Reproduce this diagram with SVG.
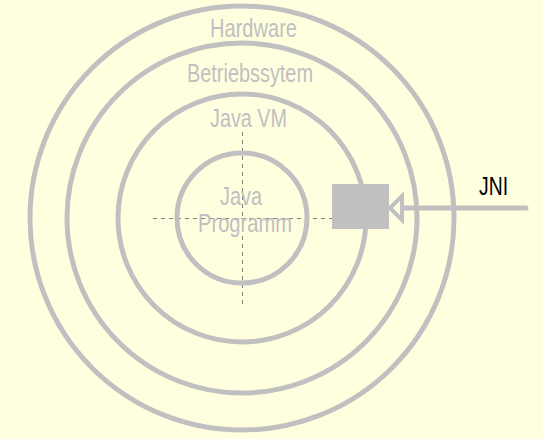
<svg xmlns="http://www.w3.org/2000/svg" width="543" height="439" viewBox="0 0 543 439">
<style>
.ring{fill:none;stroke:#C0C0C0;stroke-width:5}
.lbl{font-family:"Liberation Sans",Arial,sans-serif;font-size:25px;fill:#C0C0C0}
.axis{stroke:#808080;stroke-width:1;stroke-dasharray:4,4;fill:none}
</style>
<rect x="0" y="0" width="543" height="439" fill="#FFFFE0"/>
<g id="hardware">
<circle class="ring" cx="242" cy="218" r="212"/>
<text class="lbl" x="210" y="37" textLength="87" lengthAdjust="spacingAndGlyphs">Hardware</text>
</g>
<g id="betriebssystem">
<circle class="ring" cx="242" cy="218" r="175"/>
<text class="lbl" x="187" y="82" textLength="126" lengthAdjust="spacingAndGlyphs">Betriebssytem</text>
</g>
<g id="javavm">
<circle class="ring" cx="242" cy="218" r="124"/>
<text class="lbl" x="210" y="127" textLength="77" lengthAdjust="spacingAndGlyphs">Java VM</text>
</g>
<g id="axes">
<line class="axis" x1="242.5" y1="132" x2="242.5" y2="308"/>
<line class="axis" x1="153" y1="218.5" x2="332" y2="218.5"/>
</g>
<g id="javaprogramm">
<circle class="ring" cx="242" cy="218" r="65"/>
<text class="lbl" x="220" y="205" textLength="42" lengthAdjust="spacingAndGlyphs">Java</text>
<text class="lbl" x="198" y="232" textLength="94" lengthAdjust="spacingAndGlyphs">Programm</text>
</g>
<g id="jni-box">
<rect x="332" y="184" width="57" height="45" fill="#C0C0C0"/>
</g>
<g id="connectors">
<line x1="402" y1="208" x2="526" y2="208" stroke="#C0C0C0" stroke-width="5" stroke-linecap="round"/>
<polygon points="390,208 402,196 402,220" fill="#FFFFE0" stroke="#C0C0C0" stroke-width="4" stroke-linejoin="miter"/>
</g>
<g id="jni-label">
<text x="479" y="195" font-family="'Liberation Sans',Arial,sans-serif" font-size="26" fill="#000000" textLength="29" lengthAdjust="spacingAndGlyphs">JNI</text>
</g>
</svg>
